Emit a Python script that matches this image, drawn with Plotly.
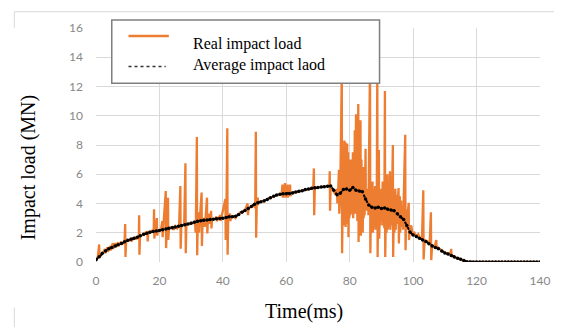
import plotly.graph_objects as go

# ---- data ----
real_t = [0.0, 0.6, 1.0, 1.1, 1.6, 2.4, 2.8, 2.9, 3.6, 3.7,
          4.5, 4.6, 5.3, 5.4, 6.2, 6.3, 7.0, 7.1, 8.0, 8.1,
          9.0, 9.2, 9.3, 9.5, 10.5, 11.2, 11.3, 11.4, 12.5, 12.6,
          13.5, 13.6, 13.7, 13.9, 15.0, 15.5, 16.2, 16.3, 16.5, 17.5,
          18.2, 18.3, 18.4, 18.6, 19.2, 19.3, 19.5, 20.5, 20.9, 21.0,
          21.2, 22.0, 22.1, 22.3, 22.7, 22.8, 23.0, 24.0, 24.5, 25.0,
          25.6, 26.2, 26.6, 26.7, 26.9, 27.8, 28.2, 28.3, 28.5, 29.5,
          30.0, 30.6, 31.2, 31.4, 31.5, 31.8, 31.9, 32.1, 32.4, 32.5,
          32.7, 33.3, 33.4, 33.6, 34.2, 34.3, 34.5, 35.0, 35.1, 35.3,
          35.8, 35.9, 36.3, 36.4, 36.6, 37.5, 38.0, 38.1, 38.5, 39.2,
          39.3, 39.5, 40.8, 40.9, 41.1, 41.4, 41.5, 41.7, 42.3, 42.4,
          42.6, 43.5, 44.0, 44.5, 45.0, 45.5, 46.2, 47.0, 47.8, 47.9,
          48.1, 49.0, 49.6, 50.2, 50.4, 50.5, 50.7, 51.0, 51.1, 51.3,
          52.0, 53.0, 54.0, 55.0, 56.0, 57.0, 58.5, 58.8, 58.9, 59.2,
          59.3, 59.6, 59.7, 60.0, 60.1, 60.4, 60.5, 60.8, 60.9, 61.2,
          61.3, 61.6, 62.5, 63.5, 64.5, 65.5, 66.5, 67.5, 68.5, 68.7,
          68.8, 69.0, 70.0, 71.0, 72.0, 73.0, 73.6, 73.7, 73.8, 74.0,
          74.6, 75.0, 75.5, 76.0, 76.1, 76.3, 76.6, 76.7, 77.0, 77.5,
          77.6, 77.8, 78.0, 78.1, 78.3, 78.4, 78.6, 78.7, 78.9, 79.0,
          79.2, 79.3, 79.5, 79.6, 79.8, 79.9, 80.1, 80.2, 80.4, 80.5,
          80.7, 80.8, 81.0, 81.1, 81.3, 81.4, 81.6, 81.7, 82.0, 82.1,
          82.3, 82.4, 82.7, 82.8, 83.0, 83.1, 83.4, 83.5, 83.7, 83.8,
          84.0, 84.1, 84.3, 84.4, 84.6, 84.7, 85.0, 85.1, 85.4, 85.5,
          85.8, 85.9, 86.4, 86.5, 86.8, 86.9, 87.2, 87.3, 87.6, 87.7,
          88.0, 88.1, 88.4, 88.5, 88.7, 88.8, 89.0, 89.2, 89.3, 89.6,
          89.7, 90.0, 90.1, 90.4, 90.5, 90.8, 90.9, 91.1, 91.2, 91.5,
          91.6, 91.9, 92.0, 92.3, 92.4, 92.7, 92.8, 93.1, 93.2, 93.6,
          93.7, 94.0, 94.1, 94.4, 94.5, 94.8, 94.9, 95.4, 95.5, 95.8,
          95.9, 96.2, 96.3, 96.7, 96.8, 97.5, 97.6, 97.9, 98.0, 98.6,
          98.7, 99.0, 99.4, 99.8, 100.4, 101.0, 101.6, 102.2, 102.8, 103.2,
          103.3, 103.6, 104.5, 105.2, 105.6, 105.7, 106.0, 106.8, 107.3, 107.4,
          107.8, 109.0, 110.0, 111.0, 111.8, 112.0, 112.1, 112.4, 113.0, 114.0,
          115.0, 116.0, 117.2, 120.0, 125.0, 130.0, 135.0, 140.0]
real_v = [0.1, 0.4, 1.2, 0.3, 0.5, 0.7, 0.9, 0.6, 1.0, 0.7,
          1.1, 0.8, 1.3, 0.9, 1.3, 1.0, 1.35, 1.1, 1.4, 1.2,
          1.35, 2.6, 0.35, 1.4, 1.5, 1.45, 1.7, 1.5, 1.7, 1.55,
          1.75, 3.2, 0.5, 1.8, 1.85, 2.0, 2.05, 1.4, 2.0, 2.1,
          2.2, 3.6, 1.6, 2.1, 3.0, 1.8, 2.15, 2.2, 2.8, 1.7,
          2.3, 4.85, 0.95, 2.3, 4.4, 1.5, 2.3, 2.4, 2.2, 2.45,
          2.3, 2.5, 5.2, 0.9, 2.5, 2.5, 6.75, 0.6, 2.6, 2.6,
          2.7, 2.65, 2.8, 2.0, 2.8, 8.55, 0.47, 2.8, 3.4, 2.0,
          2.8, 4.75, 1.1, 2.85, 3.0, 2.4, 2.85, 4.4, 1.95, 2.9,
          3.3, 2.6, 3.5, 2.3, 2.9, 2.95, 3.1, 2.8, 2.95, 3.2,
          2.8, 3.0, 4.3, 1.5, 3.0, 9.15, 0.5, 3.1, 3.3, 2.8,
          3.1, 3.1, 3.0, 3.2, 3.25, 3.4, 3.45, 3.55, 4.0, 3.2,
          3.65, 3.8, 3.9, 3.7, 8.9, 1.66, 4.0, 4.4, 3.9, 4.05,
          4.12, 4.17, 4.3, 4.4, 4.5, 4.58, 4.62, 5.3, 4.4, 5.2,
          4.5, 5.4, 4.4, 5.2, 4.5, 5.3, 4.4, 5.2, 4.5, 5.3,
          4.5, 4.7, 4.75, 4.8, 4.86, 4.92, 4.98, 5.03, 5.06, 6.4,
          3.2, 5.08, 5.1, 5.12, 5.15, 5.18, 5.2, 6.2, 3.5, 5.2,
          5.0, 4.8, 4.6, 5.0, 4.0, 4.6, 6.3, 3.3, 4.6, 13.0,
          0.6, 4.8, 8.0, 2.8, 8.3, 2.5, 8.2, 2.4, 7.8, 3.0,
          8.1, 2.6, 7.5, 1.7, 7.0, 3.0, 6.5, 3.2, 7.0, 3.5,
          6.8, 3.3, 7.5, 3.0, 7.4, 3.4, 9.0, 3.3, 10.1, 3.3,
          9.5, 2.8, 10.8, 1.37, 9.0, 2.0, 9.7, 1.8, 7.0, 2.5,
          6.5, 2.0, 6.0, 3.0, 6.5, 3.2, 7.75, 3.5, 5.0, 3.5,
          5.0, 3.2, 13.5, 0.6, 5.0, 2.5, 5.5, 2.0, 5.0, 2.4,
          5.2, 2.2, 5.0, 2.8, 13.5, 0.35, 4.5, 7.65, 1.6, 4.5,
          2.5, 5.0, 2.8, 5.5, 2.5, 5.2, 2.3, 11.7, 0.35, 5.0,
          2.0, 6.0, 2.2, 5.5, 2.4, 6.2, 2.2, 5.5, 2.5, 8.0,
          0.35, 4.5, 2.0, 5.0, 2.2, 4.6, 2.6, 5.06, 1.26, 4.5,
          2.0, 4.2, 2.4, 3.8, 2.2, 8.7, 0.8, 3.6, 2.6, 4.05,
          1.5, 2.3, 2.5, 1.9, 2.0, 1.75, 1.9, 1.6, 1.65, 4.9,
          0.18, 1.5, 1.4, 1.25, 3.4, 0.13, 1.15, 1.05, 1.5, 0.9,
          1.0, 0.8, 0.65, 0.58, 0.6, 0.9, 0.35, 0.45, 0.35, 0.25,
          0.18, 0.1, 0.0, 0.0, 0.0, 0.0, 0.0, 0.0]

avg_t = list(range(0, 141))
avg_v = [0.15, 0.36, 0.6, 0.76, 0.9, 1.0, 1.1, 1.18, 1.26, 1.38, 1.48, 1.55, 1.62, 1.7, 1.8, 1.9, 1.97, 2.03, 2.08, 2.12,
         2.15, 2.2, 2.25, 2.3, 2.35, 2.4, 2.45, 2.49, 2.55, 2.6, 2.65, 2.72, 2.78, 2.82, 2.85, 2.87, 2.9, 2.93, 2.96, 2.98,
         3.0, 3.05, 3.1, 3.1, 3.12, 3.25, 3.4, 3.52, 3.65, 3.8, 3.95, 4.05, 4.12, 4.17, 4.28, 4.4, 4.5, 4.58, 4.63, 4.66,
         4.66, 4.68, 4.72, 4.78, 4.84, 4.88, 4.95, 5.0, 5.05, 5.08, 5.1, 5.12, 5.15, 5.18, 5.2, 4.9, 4.6, 4.7, 4.95, 5.0,
         4.9, 5.1, 4.9, 4.85, 4.8, 4.3, 3.9, 3.75, 3.7, 3.75, 3.65, 3.7, 3.6, 3.55, 3.5, 3.3, 3.1, 2.9, 2.5, 2.05,
         1.85, 1.75, 1.62, 1.5, 1.4, 1.25, 1.1, 1.0, 0.9, 0.75, 0.62, 0.55, 0.45, 0.35, 0.25, 0.18, 0.1, 0.02, 0.0, 0.0,
         0.0, 0.0, 0.0, 0.0, 0.0, 0.0, 0.0, 0.0, 0.0, 0.0, 0.0, 0.0, 0.0, 0.0, 0.0, 0.0, 0.0, 0.0, 0.0, 0.0,
         0.0]

x_ticks = [0, 20, 40, 60, 80, 100, 120, 140]
y_ticks = [0, 2, 4, 6, 8, 10, 12, 14, 16]

ORANGE = "#ED7D31"
GRID = "#d9d9d9"
SERIF = "Liberation Serif"

fig = go.Figure()
fig.add_trace(go.Scatter(x=real_t, y=real_v, mode="lines",
                         line=dict(color=ORANGE, width=2.3), name="Real impact load",
                         showlegend=False))
fig.add_trace(go.Scatter(x=avg_t, y=avg_v, mode="lines+markers",
                         line=dict(color="black", width=2, dash="dot"),
                         marker=dict(color="black", size=3.5),
                         name="Average impact laod", showlegend=False))

# page has an 8px body margin, so the figure is 8px smaller than the window
fig.update_layout(
    width=554, height=319,
    margin=dict(l=88, r=15, t=17, b=65),
    paper_bgcolor="white", plot_bgcolor="white",
    xaxis=dict(range=[0, 140], tickvals=x_ticks, showgrid=True, gridcolor=GRID, gridwidth=1,
               zeroline=False, showline=False, ticks="",
               tickfont=dict(family="Lato", size=12, color="#888888"), ticklabelstandoff=10),
    yaxis=dict(range=[0, 16], tickvals=y_ticks, showgrid=True, gridcolor=GRID, gridwidth=1,
               zeroline=False, showline=False, ticks="",
               tickfont=dict(family="Lato", size=12, color="#888888"), ticklabelstandoff=12),
)

# chart frame pieces
fig.add_shape(type="line", xref="paper", yref="paper", x0=-0.184, x1=1.04, y0=1.0696, y1=1.0696,
              line=dict(color=GRID, width=1))
fig.add_shape(type="line", xref="paper", yref="paper", x0=-0.184, x1=-0.184, y0=1.0696, y1=1.0,
              line=dict(color=GRID, width=1))
fig.add_shape(type="line", xref="paper", yref="paper", x0=-0.184, x1=-0.184, y0=-0.194, y1=-0.28,
              line=dict(color=GRID, width=1))

# legend box
fig.add_shape(type="rect", xref="paper", yref="paper", x0=0.0355, x1=0.6386, y0=0.7637, y1=1.0338,
              fillcolor="white", line=dict(color="#7f7f7f", width=1.5), layer="above")
fig.add_shape(type="line", xref="paper", yref="paper", x0=0.0732, x1=0.164, y0=0.966, y1=0.966,
              line=dict(color=ORANGE, width=2.5), layer="above")
fig.add_shape(type="line", xref="paper", yref="paper", x0=0.0732, x1=0.157, y0=0.835, y1=0.835,
              line=dict(color="#333333", width=1.5, dash="dot"), layer="above")
fig.add_annotation(xref="paper", yref="paper", x=0.2129, y=0.93, xanchor="left", yanchor="middle",
                   text="Real impact load", showarrow=False, font=dict(family=SERIF, size=16, color="black"))
fig.add_annotation(xref="paper", yref="paper", x=0.2129, y=0.84, xanchor="left", yanchor="middle",
                   text="Average impact laod", showarrow=False, font=dict(family=SERIF, size=16, color="black"))

# axis titles
fig.add_annotation(xref="paper", yref="paper", x=(307 - 96) / 451, y=(262 - 312) / 237,
                   xanchor="center", yanchor="middle", text="Time(ms)", showarrow=False,
                   font=dict(family=SERIF, size=20, color="black"))
fig.add_annotation(xref="paper", yref="paper", x=(27 - 96) / 451, y=(262 - 166) / 237,
                   xanchor="center", yanchor="middle", text="Impact load (MN)", showarrow=False,
                   textangle=-90, font=dict(family=SERIF, size=20, color="black"))

fig.write_html("out.html")
